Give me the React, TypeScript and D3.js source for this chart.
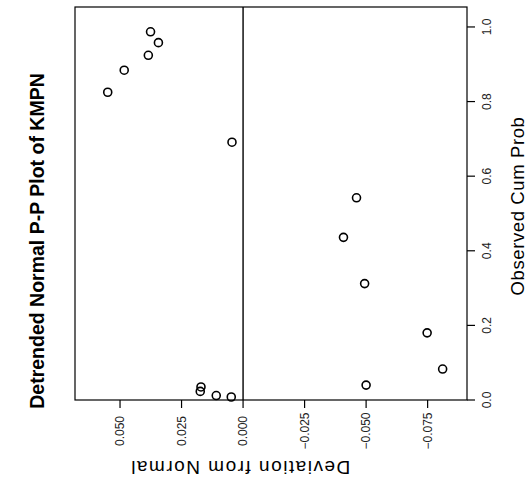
import React from "react";
import * as d3 from "d3";

const deviation = [0.055, 0.0483, 0.0385, 0.0376, 0.0344, 0.0045, 0.0171, 0.0174, 0.0109, 0.0048, -0.0461, -0.0408, -0.0494, -0.0748, -0.0811, -0.05];
const cumProb = [0.825, 0.884, 0.924, 0.987, 0.958, 0.691, 0.035, 0.023, 0.012, 0.008, 0.542, 0.436, 0.312, 0.18, 0.083, 0.04];
const devTicks = [0.05, 0.025, 0, -0.025, -0.05, -0.075];
const probTicks = [0, 0.2, 0.4, 0.6, 0.8, 1.0];
const title = "Detrended Normal P-P Plot of KMPN";
const devLabel = "Deviation from Normal";
const probLabel = "Observed Cum Prob";

const W = 529, H = 488;
const L = 75, R = 467, T = 7, B = 400;

export default function App() {
  const x = d3.scaleLinear().domain([0.0683, -0.091]).range([L, R]);
  const y = d3.scaleLinear().domain([0, 1.0535]).range([B, T]);
  const fmtDev = d3.format(".3f");
  const fmtProb = d3.format(".1f");
  const font = "'Liberation Sans', Arial, sans-serif";
  return (
    <svg width={W} height={H} style={{ position: "absolute", left: 0, top: 0, background: "#fff" }} fontFamily={font}>
      <rect x={0} y={0} width={W} height={H} fill="#fff" />
      {/* frame */}
      <rect x={L} y={T} width={R - L} height={B - T} fill="none" stroke="#000" strokeWidth={1.2} />
      {/* zero reference line */}
      <line x1={x(0)} x2={x(0)} y1={T} y2={B} stroke="#000" strokeWidth={1.4} />
      {/* bottom ticks */}
      {devTicks.map((t, i) => (
        <g key={"d" + i}>
          <line x1={x(t)} x2={x(t)} y1={B} y2={B + 8} stroke="#000" strokeWidth={1.2} />
          <text transform={`translate(${x(t) + 4},431) rotate(-90)`} textAnchor="middle" fontSize={12} fill="#222">
            {fmtDev(t)}
          </text>
        </g>
      ))}
      {/* right ticks */}
      {probTicks.map((t, i) => (
        <g key={"p" + i}>
          <line x1={R} x2={R + 8} y1={y(t)} y2={y(t)} stroke="#000" strokeWidth={1.2} />
          <text transform={`translate(491,${y(t)}) rotate(-90)`} textAnchor="middle" fontSize={12} fill="#222">
            {fmtProb(t)}
          </text>
        </g>
      ))}
      {/* points */}
      {deviation.map((d, i) => (
        <circle key={"c" + i} cx={x(d)} cy={y(cumProb[i])} r={4} fill="none" stroke="#000" strokeWidth={1.6} />
      ))}
      {/* title */}
      <text transform={`translate(44,241) rotate(-90)`} textAnchor="middle" fontSize={19.5} fontWeight="bold" fill="#000">
        {title}
      </text>
      {/* bottom label upside down */}
      <text transform={`translate(240,461) rotate(180)`} textAnchor="middle" fontSize={19} letterSpacing={1.5} fill="#000">
        {devLabel}
      </text>
      {/* right label */}
      <text transform={`translate(524,206) rotate(-90)`} textAnchor="middle" fontSize={18.5} letterSpacing={0.6} fill="#000">
        {probLabel}
      </text>
    </svg>
  );
}
